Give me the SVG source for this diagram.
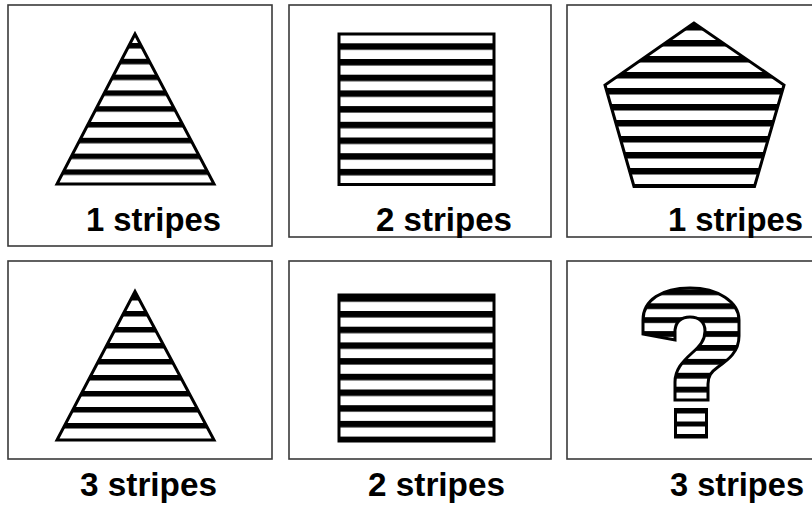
<svg xmlns="http://www.w3.org/2000/svg" width="812" height="510" viewBox="0 0 812 510">
  <style>
    .frame { fill: #fff; stroke: #3a3a3a; stroke-width: 1.6; }
    .shape { stroke: #000; stroke-width: 3; stroke-linejoin: miter; }
    .label { font-family: "Liberation Sans", Arial, Helvetica, sans-serif; font-weight: bold; font-size: 34px; fill: #000; }
  </style>
  <defs>
    <pattern id="p1" patternUnits="userSpaceOnUse" x="0" y="43" width="812" height="15.8">
      <rect width="812" height="15.8" fill="#fff"/><rect width="812" height="5.5" fill="#000"/>
    </pattern>
    <pattern id="p2" patternUnits="userSpaceOnUse" x="0" y="43.3" width="812" height="15.7">
      <rect width="812" height="15.7" fill="#fff"/><rect width="812" height="6.5" fill="#000"/>
    </pattern>
    <pattern id="p3" patternUnits="userSpaceOnUse" x="0" y="24" width="812" height="16">
      <rect width="812" height="16" fill="#fff"/><rect width="812" height="6.5" fill="#000"/>
    </pattern>
    <pattern id="p4" patternUnits="userSpaceOnUse" x="0" y="295" width="812" height="16">
      <rect width="812" height="16" fill="#fff"/><rect width="812" height="5.5" fill="#000"/>
    </pattern>
    <pattern id="p5" patternUnits="userSpaceOnUse" x="0" y="295.3" width="812" height="15.7">
      <rect width="812" height="15.7" fill="#fff"/><rect width="812" height="6.5" fill="#000"/>
    </pattern>
    <pattern id="p6" patternUnits="userSpaceOnUse" x="0" y="289.4" width="812" height="13.9">
      <rect width="812" height="13.9" fill="#fff"/><rect width="812" height="5.8" fill="#000"/>
    </pattern>
  </defs>
  <rect width="812" height="510" fill="#fff"/>

  <g id="panel-1">
    <rect class="frame" x="8" y="5" width="264" height="241"/>
    <polygon class="shape" fill="url(#p1)" points="135,34 57,184 214,184"/>
    <text class="label" x="86" y="231" textLength="135" lengthAdjust="spacingAndGlyphs">1 stripes</text>
  </g>

  <g id="panel-2">
    <rect class="frame" x="289" y="5" width="262" height="232"/>
    <rect class="shape" fill="url(#p2)" x="339" y="34" width="155" height="150.5"/>
    <text class="label" x="376" y="231" textLength="136" lengthAdjust="spacingAndGlyphs">2 stripes</text>
  </g>

  <g id="panel-3">
    <rect class="frame" x="567" y="5" width="260" height="232"/>
    <polygon class="shape" fill="url(#p3)" points="694,23 605,85 634,186.5 754.5,186.5 784,85"/>
    <text class="label" x="668" y="231" textLength="135" lengthAdjust="spacingAndGlyphs">1 stripes</text>
  </g>

  <g id="panel-4">
    <rect class="frame" x="8" y="261" width="264" height="198"/>
    <polygon class="shape" fill="url(#p4)" points="135,291.5 57,440 214,440"/>
    <text class="label" x="80" y="496" textLength="137" lengthAdjust="spacingAndGlyphs">3 stripes</text>
  </g>

  <g id="panel-5">
    <rect class="frame" x="289" y="261" width="262" height="198"/>
    <rect class="shape" fill="url(#p5)" x="339" y="295" width="155" height="146"/>
    <text class="label" x="368" y="496" textLength="137" lengthAdjust="spacingAndGlyphs">2 stripes</text>
  </g>

  <g id="panel-6">
    <rect class="frame" x="567" y="261" width="260" height="198"/>
    <path class="shape" fill="url(#p6)" d="M 690 288 C 718 288, 739 302, 739 320 L 739 336 C 739 352, 728 360, 718 367 C 711 372, 708 376, 708 384 L 708 400 L 675 400 L 675 382 C 675 370, 682 362, 692 353 C 700 346, 705 340, 705 331 C 705 322, 699 317, 690 317 C 681 317, 676 322, 675 330 L 675 340 L 643 334 L 643 320 C 643 300, 662 288, 690 288 Z"/>
    <rect x="674" y="408" width="34" height="30.5" fill="#000"/>
    <rect x="677" y="413.5" width="28" height="8" fill="#fff"/>
    <rect x="677" y="426.5" width="28" height="7.5" fill="#fff"/>
    <text class="label" x="670" y="496" textLength="134" lengthAdjust="spacingAndGlyphs">3 stripes</text>
  </g>
</svg>
